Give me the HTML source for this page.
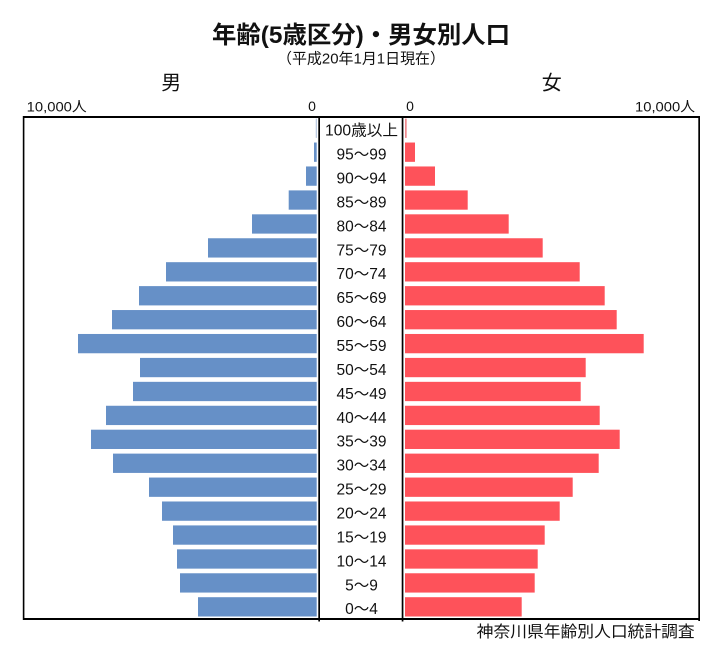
<!DOCTYPE html>
<html>
<head>
<meta charset="utf-8">
<style>
html,body{margin:0;padding:0;background:#fff;}
svg{display:block;}
text{font-family:"Liberation Sans","Noto Sans CJK JP",sans-serif;fill:#111;}
</style>
</head>
<body>
<svg width="721" height="663" viewBox="0 0 721 663" xmlns="http://www.w3.org/2000/svg">
<rect x="0" y="0" width="721" height="663" fill="#fff"/>

<!-- Titles -->
<text x="212" y="43" font-size="24" font-weight="bold" textLength="298" lengthAdjust="spacingAndGlyphs">年齢(5歳区分)・男女別人口</text>
<text x="277" y="63.5" font-size="15" textLength="168" lengthAdjust="spacingAndGlyphs">（平成20年1月1日現在）</text>
<text x="171.3" y="89.5" font-size="20" text-anchor="middle">男</text>
<text x="551.7" y="89.5" font-size="20" text-anchor="middle">女</text>

<!-- axis labels -->
<text x="26.7" y="111.5" font-size="14" textLength="60" lengthAdjust="spacingAndGlyphs">10,000人</text>
<text x="312" y="111" font-size="14" text-anchor="middle">0</text>
<text x="410" y="111" font-size="14" text-anchor="middle">0</text>
<text x="635" y="111.5" font-size="14" textLength="60" lengthAdjust="spacingAndGlyphs">10,000人</text>

<!-- Male bars -->
<g fill="#6690c7">
<rect x="315.8" y="118.6" width="0.9" height="19.3" fill="#9fb6d6"/>
<rect x="314" y="142.53" width="2.7" height="19.3"/>
<rect x="306" y="166.46" width="10.7" height="19.3"/>
<rect x="288.7" y="190.39" width="28" height="19.3"/>
<rect x="252" y="214.32" width="64.7" height="19.3"/>
<rect x="208" y="238.25" width="108.7" height="19.3"/>
<rect x="166" y="262.18" width="150.7" height="19.3"/>
<rect x="139" y="286.11" width="177.7" height="19.3"/>
<rect x="112" y="310.04" width="204.7" height="19.3"/>
<rect x="78" y="333.97" width="238.7" height="19.3"/>
<rect x="140" y="357.9" width="176.7" height="19.3"/>
<rect x="133" y="381.83" width="183.7" height="19.3"/>
<rect x="106" y="405.76" width="210.7" height="19.3"/>
<rect x="91" y="429.69" width="225.7" height="19.3"/>
<rect x="113" y="453.62" width="203.7" height="19.3"/>
<rect x="149" y="477.55" width="167.7" height="19.3"/>
<rect x="162" y="501.48" width="154.7" height="19.3"/>
<rect x="173" y="525.41" width="143.7" height="19.3"/>
<rect x="177" y="549.34" width="139.7" height="19.3"/>
<rect x="180" y="573.27" width="136.7" height="19.3"/>
<rect x="198" y="597.2" width="118.7" height="19.3"/>
</g>

<!-- Female bars -->
<g fill="#fe525a">
<rect x="405" y="118.6" width="1.7" height="19.3" fill="#f08a8f"/>
<rect x="405" y="142.53" width="10" height="19.3"/>
<rect x="405" y="166.46" width="30" height="19.3"/>
<rect x="405" y="190.39" width="62.7" height="19.3"/>
<rect x="405" y="214.32" width="103.7" height="19.3"/>
<rect x="405" y="238.25" width="137.7" height="19.3"/>
<rect x="405" y="262.18" width="174.7" height="19.3"/>
<rect x="405" y="286.11" width="199.7" height="19.3"/>
<rect x="405" y="310.04" width="211.7" height="19.3"/>
<rect x="405" y="333.97" width="238.7" height="19.3"/>
<rect x="405" y="357.9" width="180.7" height="19.3"/>
<rect x="405" y="381.83" width="175.7" height="19.3"/>
<rect x="405" y="405.76" width="194.7" height="19.3"/>
<rect x="405" y="429.69" width="214.7" height="19.3"/>
<rect x="405" y="453.62" width="193.7" height="19.3"/>
<rect x="405" y="477.55" width="167.7" height="19.3"/>
<rect x="405" y="501.48" width="154.7" height="19.3"/>
<rect x="405" y="525.41" width="139.7" height="19.3"/>
<rect x="405" y="549.34" width="132.7" height="19.3"/>
<rect x="405" y="573.27" width="129.7" height="19.3"/>
<rect x="405" y="597.2" width="116.7" height="19.3"/>
</g>

<!-- Age labels -->
<g font-size="15.5" text-anchor="middle">
<text x="361.5" y="135.6" textLength="73" lengthAdjust="spacingAndGlyphs">100歳以上</text>
<text x="361.5" y="159.53">95～99</text>
<text x="361.5" y="183.46">90～94</text>
<text x="361.5" y="207.39">85～89</text>
<text x="361.5" y="231.32">80～84</text>
<text x="361.5" y="255.25">75～79</text>
<text x="361.5" y="279.18">70～74</text>
<text x="361.5" y="303.11">65～69</text>
<text x="361.5" y="327.04">60～64</text>
<text x="361.5" y="350.97">55～59</text>
<text x="361.5" y="374.9">50～54</text>
<text x="361.5" y="398.83">45～49</text>
<text x="361.5" y="422.76">40～44</text>
<text x="361.5" y="446.69">35～39</text>
<text x="361.5" y="470.62">30～34</text>
<text x="361.5" y="494.55">25～29</text>
<text x="361.5" y="518.48">20～24</text>
<text x="361.5" y="542.41">15～19</text>
<text x="361.5" y="566.34">10～14</text>
<text x="361.5" y="590.27">5～9</text>
<text x="361.5" y="614.2">0～4</text>
</g>

<!-- Frame -->
<g fill="#000">
<rect x="23" y="116" width="677" height="2"/>
<rect x="23" y="618" width="677" height="2"/>
<rect x="22.8" y="116" width="1.6" height="504"/>
<rect x="698.3" y="116" width="1.7" height="505"/>
<rect x="318.3" y="116" width="1.7" height="505.5"/>
<rect x="401.7" y="116" width="1.7" height="505.5"/>
</g>

<!-- Source -->
<text x="476.7" y="637" font-size="16" textLength="218" lengthAdjust="spacingAndGlyphs">神奈川県年齢別人口統計調査</text>
</svg>
</body>
</html>
